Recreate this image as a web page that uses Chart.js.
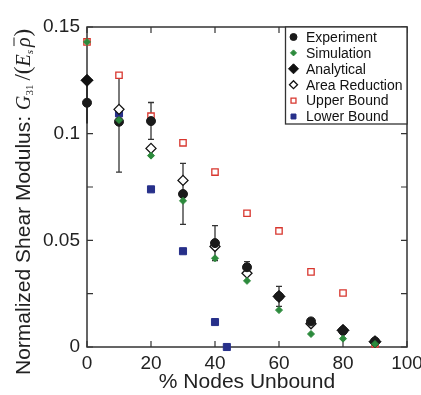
<!DOCTYPE html>
<html>
<head>
<meta charset="utf-8">
<script src="https://cdn.jsdelivr.net/npm/chart.js@4/dist/chart.umd.min.js"></script>
<style>
  html, body { margin: 0; padding: 0; background: #fff; }
  #wrap { width: 421px; height: 395px; }
</style>
</head>
<body>
<div id="wrap"><canvas id="shear" width="421" height="395"></canvas></div>
<script>
// % nodes unbound
var xVals = [0, 10, 20, 30, 40, 50, 60, 70, 80, 90];

var experiment = [0.1145, 0.1056, 0.1059, 0.0717, 0.0487, 0.0374, 0.0237, 0.0120, 0.0076, 0.0026];
var expLow     = [0.1048, 0.0820, 0.0973, 0.0575, 0.0405, 0.0350, 0.0190, 0.0110, 0.0070, 0.0015];
var expHigh    = [0.1250, 0.1274, 0.1146, 0.0861, 0.0569, 0.0400, 0.0284, 0.0130, 0.0082, 0.0039];

var simulation = [0.1430, 0.1064, 0.0897, 0.0685, 0.0416, 0.0310, 0.0173, 0.0061, 0.0039, 0.0014];

var analyticalX = [0, 60, 80, 90];
var analytical  = [0.1250, 0.0237, 0.0078, 0.0025];

var areaReduction = [0.1250, 0.1114, 0.0931, 0.0781, 0.0471, 0.0346, 0.0237, 0.0109, 0.0078, 0.0025];

var upperBound = [0.1430, 0.1274, 0.1082, 0.0957, 0.0820, 0.0627, 0.0544, 0.0352, 0.0253, 0.0015];

var lowerX     = [10, 20, 30, 40, 43.7];
var lowerBound = [0.1095, 0.0739, 0.0449, 0.0117, 0];

var xTickLabels = ['0', '20', '40', '60', '80', '100'];
var yTickLabels = ['0', '0.05', '0.1', '0.15'];

function pts(xs, ys) {
    var out = [];
    for (var i in ys) {
        out.push({x: xs[i], y: ys[i]});
    }
    return out;
}

var FONT = "'Liberation Sans', Arial, sans-serif";

// error bars for the experiment points
var errorBars = {
    id: 'errorBars',
    beforeDatasetsDraw: function (chart) {
        var ctx = chart.ctx, xs = chart.scales.x, ys = chart.scales.y;
        ctx.save();
        for (var i in xVals) {
            var px = xs.getPixelForValue(xVals[i]);
            var top = ys.getPixelForValue(expHigh[i]);
            var bot = ys.getPixelForValue(expLow[i]);
            ctx.strokeStyle = i == 0 ? '#222' : '#7a7a7a';
            ctx.lineWidth = 2;
            ctx.beginPath();
            ctx.moveTo(px, top);
            ctx.lineTo(px, bot);
            ctx.stroke();
            if (i > 0) {
                ctx.strokeStyle = '#333';
                ctx.lineWidth = 1.3;
                ctx.beginPath();
                ctx.moveTo(px - 3, top); ctx.lineTo(px + 3, top);
                ctx.moveTo(px - 3, bot); ctx.lineTo(px + 3, bot);
                ctx.stroke();
            }
        }
        ctx.restore();
    }
};

// box frame with inward ticks on all four sides
var frame = {
    id: 'frame',
    beforeDatasetsDraw: function (chart) {
        var ctx = chart.ctx, a = chart.chartArea;
        var xs = chart.scales.x, ys = chart.scales.y;
        ctx.save();
        ctx.strokeStyle = '#333';
        ctx.lineWidth = 1.5;
        ctx.strokeRect(a.left, a.top, a.right - a.left, a.bottom - a.top);
        ctx.lineWidth = 1.2;
        ctx.beginPath();
        xs.ticks.forEach(function (t) {
            var p = xs.getPixelForValue(t.value);
            ctx.moveTo(p, a.bottom); ctx.lineTo(p, a.bottom - 6);
            ctx.moveTo(p, a.top); ctx.lineTo(p, a.top + 6);
        });
        ys.ticks.forEach(function (t) {
            var p = ys.getPixelForValue(t.value);
            ctx.moveTo(a.left, p); ctx.lineTo(a.left + 6, p);
            ctx.moveTo(a.right, p); ctx.lineTo(a.right - 6, p);
        });
        ctx.stroke();
        ctx.restore();
    }
};

// legend box in the upper right corner
var boxLegend = {
    id: 'boxLegend',
    afterDraw: function (chart) {
        var ctx = chart.ctx, a = chart.chartArea;
        var left = 285.5, top = a.top, w = a.right - left, h = 97;
        ctx.save();
        ctx.fillStyle = '#fff';
        ctx.fillRect(left, top, w, h);
        ctx.strokeStyle = '#333';
        ctx.lineWidth = 1.3;
        ctx.strokeRect(left, top, w, h);
        var sizes = [3.5, 3, 5, 4, 3.5, 3.5];
        chart.data.datasets.forEach(function (ds, i) {
            var cy = top + 10 + i * 15.9;
            ctx.fillStyle = ds.backgroundColor;
            ctx.strokeStyle = ds.borderColor;
            ctx.lineWidth = ds.borderWidth;
            Chart.helpers.drawPoint(ctx, {pointStyle: ds.pointStyle, radius: sizes[i], borderWidth: ds.borderWidth}, 293.5, cy);
            ctx.fillStyle = '#111';
            ctx.font = '14px ' + FONT;
            ctx.textBaseline = 'middle';
            ctx.fillText(ds.label, 306, cy + 1);
        });
        ctx.restore();
    }
};

// y axis title with the math part
var yTitle = {
    id: 'yTitle',
    afterDraw: function (chart) {
        var ctx = chart.ctx;
        ctx.save();
        ctx.translate(30, 375);
        ctx.rotate(-Math.PI / 2);
        ctx.fillStyle = '#222';
        ctx.textBaseline = 'alphabetic';
        var x = 0;
        function put(txt, font, dy) {
            ctx.font = font;
            ctx.fillText(txt, x, dy || 0);
            x += ctx.measureText(txt).width;
        }
        put('Normalized Shear Modulus: ', '21px ' + FONT);
        put('G', 'italic 20px "Liberation Serif", serif');
        put('31', '11px "Liberation Serif", serif', 3);
        x += 4;
        put('/(', '23px "Liberation Serif", serif');
        put('E', 'italic 20px "Liberation Serif", serif');
        put('s', 'italic 11px "Liberation Serif", serif', 3);
        x += 3;
        var rx = x;
        put('\u03c1', 'italic 20px "Liberation Serif", serif');
        ctx.strokeStyle = '#222';
        ctx.lineWidth = 1;
        ctx.beginPath();
        ctx.moveTo(rx + 1, -16); ctx.lineTo(x, -16);
        ctx.stroke();
        x += 1;
        put(')', '23px "Liberation Serif", serif');
        ctx.restore();
    }
};

var ctx = document.getElementById('shear');
var chart = new Chart(ctx, {
    type: 'scatter',
    data: {
        datasets: [
            {
                label: 'Experiment',
                data: pts(xVals, experiment),
                pointStyle: 'circle', pointRadius: 4.5,
                backgroundColor: '#1a1a1a', borderColor: '#1a1a1a', borderWidth: 1,
                order: 2
            },
            {
                label: 'Simulation',
                data: pts(xVals, simulation),
                pointStyle: 'rectRot', pointRadius: 3.5,
                backgroundColor: '#2c8a3c', borderColor: '#2c8a3c', borderWidth: 1,
                order: 1
            },
            {
                label: 'Analytical',
                data: pts(analyticalX, analytical),
                pointStyle: 'rectRot', pointRadius: 6,
                backgroundColor: '#111', borderColor: '#111', borderWidth: 1,
                order: 3
            },
            {
                label: 'Area Reduction',
                data: pts(xVals, areaReduction),
                pointStyle: 'rectRot', pointRadius: 5,
                backgroundColor: '#fff', borderColor: '#111', borderWidth: 1.3,
                order: 4
            },
            {
                label: 'Upper Bound',
                data: pts(xVals, upperBound),
                pointStyle: 'rect', pointRadius: 4.5,
                backgroundColor: '#fff', borderColor: '#d8362e', borderWidth: 1.3,
                order: 5
            },
            {
                label: 'Lower Bound',
                data: pts(lowerX, lowerBound),
                pointStyle: 'rect', pointRadius: 5,
                backgroundColor: '#27308a', borderColor: '#27308a', borderWidth: 1,
                order: 6
            }
        ]
    },
    options: {
        responsive: false,
        animation: false,
        clip: false,
        layout: { padding: { left: 0, right: 14, top: 27, bottom: 0 } },
        plugins: {
            legend: { display: false },
            tooltip: { enabled: false }
        },
        scales: {
            x: {
                type: 'linear', min: 0, max: 100,
                grid: { display: false, drawTicks: false },
                border: { display: false },
                ticks: {
                    stepSize: 10, padding: 5, color: '#222', maxRotation: 0,
                    font: { family: FONT, size: 19 },
                    callback: function (v) {
                        return v % 20 === 0 ? xTickLabels[v / 20] : '';
                    }
                },
                title: {
                    display: true, text: '% Nodes Unbound', color: '#222',
                    font: { family: FONT, size: 21 }, padding: 0
                },
                afterFit: function (s) { s.height = 48; s.paddingRight = 0; s.paddingLeft = 0; }
            },
            y: {
                type: 'linear', min: 0, max: 0.15,
                grid: { display: false, drawTicks: false },
                border: { display: false },
                ticks: {
                    stepSize: 0.025, padding: 7, color: '#222',
                    font: { family: FONT, size: 19 },
                    callback: function (v) {
                        var k = Math.round(v / 0.025);
                        return k % 2 === 0 ? yTickLabels[k / 2] : '';
                    }
                },
                afterFit: function (s) { s.width = 87; s.paddingTop = 0; s.paddingBottom = 0; }
            }
        }
    },
    plugins: [errorBars, frame, boxLegend, yTitle]
});
</script>
</body>
</html>
